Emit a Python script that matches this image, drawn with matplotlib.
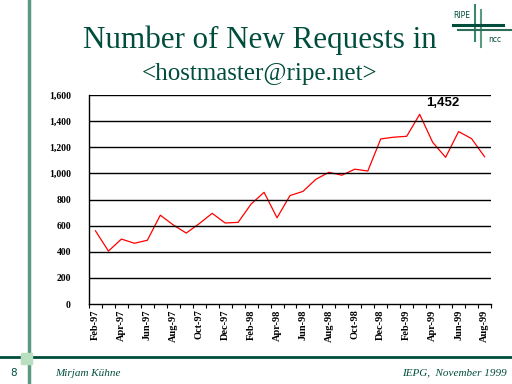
import numpy as np
import matplotlib.pyplot as plt

# monthly counts Feb-97 .. Aug-99
months = ['Feb-97', 'Mar-97', 'Apr-97', 'May-97', 'Jun-97', 'Jul-97', 'Aug-97', 'Sep-97',
          'Oct-97', 'Nov-97', 'Dec-97', 'Jan-98', 'Feb-98', 'Mar-98', 'Apr-98', 'May-98',
          'Jun-98', 'Jul-98', 'Aug-98', 'Sep-98', 'Oct-98', 'Nov-98', 'Dec-98', 'Jan-99',
          'Feb-99', 'Mar-99', 'Apr-99', 'May-99', 'Jun-99', 'Jul-99', 'Aug-99']
requests = [560, 405, 497, 465, 488, 680, 605, 543, 615, 694, 620, 625, 765, 855,
            660, 830, 862, 955, 1008, 986, 1032, 1018, 1264, 1277, 1284, 1452, 1238,
            1123, 1320, 1266, 1128]
y_ticks = [0, 200, 400, 600, 800, 1000, 1200, 1400, 1600]
peak_label = '1,452'

dark = '#004d3c'
mid = '#5a9a80'

fig = plt.figure(figsize=(5.12, 3.84), dpi=100)
fig.patch.set_facecolor('white')

# frame decoration
fig.add_artist(plt.Line2D([28.5/512, 28.5/512], [0, 1], color=mid, lw=2.5))
fig.add_artist(plt.Line2D([0, 1], [1-357/384, 1-357/384], color=dark, lw=2))
fig.add_artist(plt.Rectangle((21/512, 1-364/384), 11/512, 11/384, color='#b8e0c0', zorder=5))

# logo
fig.add_artist(plt.Line2D([475/512, 475/512], [1-5/384, 1-41/384], color='#3a8a6a', lw=1.5))
fig.add_artist(plt.Line2D([480.5/512, 480.5/512], [1-10/384, 1-47/384], color=mid, lw=1.5))
fig.add_artist(plt.Line2D([453/512, 503/512], [1-24.5/384, 1-24.5/384], color=dark, lw=2.2))
fig.add_artist(plt.Line2D([458/512, 512/512], [1-29.5/384, 1-29.5/384], color='#2e6e58', lw=1.5))
fig.text(453/512, 1-16/384, 'RIPE', fontsize=5.5, color=dark, va='center', family='DejaVu Sans')
fig.text(488/512, 1-39/384, 'ncc', fontsize=5.5, color=dark, va='center', family='DejaVu Sans')

# titles
fig.text(260/512, 1-40/384, 'Number of New Requests in', fontsize=22.3, color=dark,
         ha='center', va='center', family='Liberation Serif')
fig.text(260/512, 1-74/384, '<hostmaster@ripe.net>', fontsize=18, color=dark,
         ha='center', va='center', family='Liberation Serif')

# footer
fig.text(10/512, 1-373/384, '8', fontsize=7.5, color=dark, va='center', family='DejaVu Sans')
fig.text(55/512, 1-373/384, 'Mirjam Kühne', fontsize=8, color=dark, va='center',
         family='Liberation Serif', style='italic')
fig.text(507/512, 1-373/384, 'IEPG,  November 1999', fontsize=8, color=dark, va='center',
         ha='right', family='Liberation Serif', style='italic')

ax = fig.add_axes([89/512, 1-304/384, 402/512, 209/384])
x = np.arange(len(months))
ax.plot(x, requests, color='red', lw=0.9)
ax.set_xlim(-0.5, len(months)-0.5)
ax.set_ylim(0, 1600)
ax.set_yticks(y_ticks)
ax.set_yticklabels([f'{v:,}' for v in y_ticks], fontsize=7, fontweight='bold',
                   family='Liberation Serif')
ax.tick_params(axis='y', length=0, pad=13)
ax.set_xticks(x[::2])
ax.set_xticklabels(months[::2], rotation=90, fontsize=7.5, fontweight='bold',
                   family='Liberation Serif')
ax.set_xticks(np.arange(-0.5, len(months), 1), minor=True)
ax.tick_params(axis='x', which='major', length=0, pad=4)
ax.tick_params(axis='x', which='minor', length=3, direction='out', width=0.8)
for v in y_ticks[1:]:
    ax.axhline(v, color='black', lw=1)
for s in ['top', 'right']:
    ax.spines[s].set_visible(False)
ax.spines['left'].set_linewidth(1)
ax.spines['bottom'].set_linewidth(1)

ax.text(25.5, 1452+40, peak_label, fontsize=9.5, fontweight='bold', ha='left', va='bottom',
        family='Liberation Sans')

plt.savefig('out.png', dpi=100)
